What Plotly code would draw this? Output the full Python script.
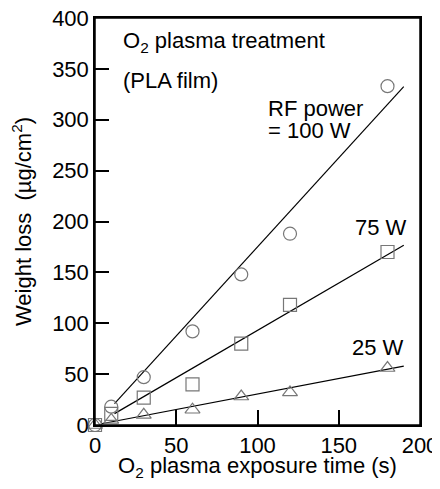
import plotly.graph_objects as go

# exposure time (s)
time_s = [0, 10, 30, 60, 90, 120, 180]

# weight loss (ug/cm2) per RF power
loss_100w = [0, 18, 47, 92, 148, 188, 333]
loss_75w = [0, 11, 27, 40, 80, 118, 170]
loss_25w = [0, 5, 10, 15, 28, 32, 56]

# fitted lines: start/end time and slope
fit_100w = ([12, 190], 1.75)
fit_75w = ([12, 190], 0.93)
fit_25w = ([4, 190], 0.305)

font = dict(family="Liberation Sans, Arial, sans-serif", size=22, color="black")
marker_color = "#777777"

fig = go.Figure()

for xs, slope in [fit_100w, fit_75w, fit_25w]:
    fig.add_trace(go.Scatter(
        x=xs, y=[slope * x for x in xs], mode="lines",
        line=dict(color="black", width=1.2), showlegend=False))

for ys, sym in [(loss_100w, "circle-open"), (loss_75w, "square-open"), (loss_25w, "triangle-up-open")]:
    fig.add_trace(go.Scatter(
        x=time_s, y=ys, mode="markers",
        marker=dict(symbol=sym, size=13, color=marker_color, line=dict(width=1.2, color=marker_color)),
        showlegend=False, cliponaxis=False))

notes = [
    (16, 376, "O<sub>2</sub> plasma treatment"),
    (16, 339, "(PLA film)"),
    (105, 311, "RF power"),
    (105, 289, "= 100 W"),
    (159, 194, "75 W"),
    (157, 76, "25 W"),
]
for x, y, t in notes:
    fig.add_annotation(x=x, y=y, text=t, showarrow=False, xanchor="left", yanchor="middle", font=font)

# frame around the plot area
fig.add_shape(type="rect", xref="paper", yref="paper", x0=0, y0=0, x1=1, y1=1,
              line=dict(color="black", width=1.5))

# page body adds 8px around the figure
fig.update_layout(
    width=432, height=473,
    margin=dict(l=87, r=20, t=10, b=56),
    plot_bgcolor="white", paper_bgcolor="white",
    font=font,
)
fig.update_xaxes(
    range=[0, 200], tickvals=[0, 50, 100, 150, 200],
    ticks="inside", ticklen=15, tickwidth=1.5, tickcolor="black",
    showline=True, linecolor="black", linewidth=1.5, mirror=True,
    showgrid=False, zeroline=False, automargin=False, ticklabeloverflow="allow",
    title=dict(text="O<sub>2</sub> plasma exposure time (s)", standoff=3, font=font),
)
fig.update_yaxes(
    range=[0, 400], tickvals=[0, 50, 100, 150, 200, 250, 300, 350, 400],
    ticks="inside", ticklen=14, tickwidth=1.5, tickcolor="black",
    showline=True, linecolor="black", linewidth=1.5, mirror=True,
    showgrid=False, zeroline=False, automargin=False, ticklabeloverflow="allow",
    title=dict(text="Weight loss  (µg/cm<sup>2</sup>)", standoff=18, font=font),
)

fig.write_html("out.html")
